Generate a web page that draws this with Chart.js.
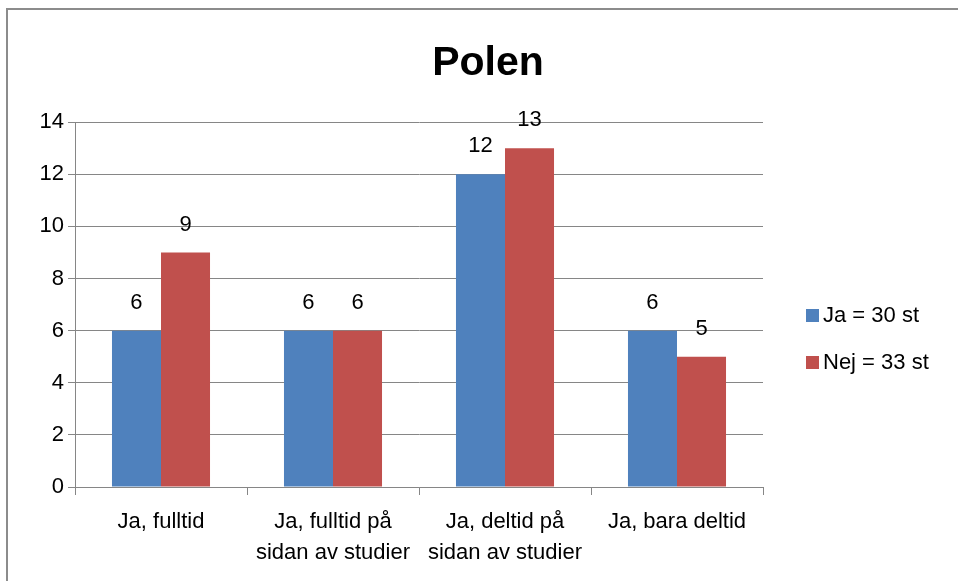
<!DOCTYPE html>
<html>
<head>
<meta charset="utf-8">
<script src="https://cdn.jsdelivr.net/npm/chart.js@4.4.0/dist/chart.umd.min.js"></script>
<style>
  html, body { margin: 0; padding: 0; background: #fff; }
  #wrap { position: relative; width: 958px; height: 581px; overflow: hidden; }
  #frame { position: absolute; left: 6px; top: 8px; width: 960px; height: 600px;
           border-top: 2px solid #8c8c8c; border-left: 2px solid #8c8c8c; }
  canvas { position: absolute; left: 0; top: 0; }
</style>
</head>
<body>
<div id="wrap">
  <div id="frame"></div>
  <canvas id="chart" width="958" height="581"></canvas>
</div>
<script>
// ========================== DATA ==============================
const chartTitle = 'Polen';
const categories = [
  'Ja, fulltid',
  ['Ja, fulltid på', 'sidan av studier'],
  ['Ja, deltid på', 'sidan av studier'],
  'Ja, bara deltid'
];
const seriesNames = ['Ja = 30 st', 'Nej = 33 st'];
const jaValues = [6, 6, 12, 6];
const nejValues = [9, 6, 13, 5];
const yTicks = { min: 0, max: 14, step: 2 };

const FONT = "'Liberation Sans', Arial, sans-serif";
const colors = ['#4F81BD', '#C0504D'];

// ========================== PLUGINS ============================
// title is centred on the whole picture, not only the plot + axis part
const centerTitle = {
  id: 'centerTitle',
  afterLayout(chart) {
    const t = chart.titleBlock;
    if (!t) return;
    t.left = 0;
    t.right = 976;
    t.width = 976;
  }
};

const barLabels = {
  id: 'barLabels',
  afterDatasetsDraw(chart) {
    const ctx = chart.ctx;
    ctx.save();
    ctx.font = '22px ' + FONT;
    ctx.fillStyle = '#000';
    ctx.textAlign = 'center';
    ctx.textBaseline = 'middle';
    chart.data.datasets.forEach((ds, i) => {
      chart.getDatasetMeta(i).data.forEach((bar, j) => {
        ctx.fillText(String(ds.data[j]), bar.x, bar.y - 28);
      });
    });
    ctx.restore();
  }
};

const sideLegend = {
  id: 'sideLegend',
  afterDraw(chart) {
    const ctx = chart.ctx;
    ctx.save();
    ctx.font = '22px ' + FONT;
    ctx.textBaseline = 'middle';
    chart.data.datasets.forEach((ds, i) => {
      const y = 316 + i * 47;
      ctx.fillStyle = ds.backgroundColor;
      ctx.fillRect(806, y - 7, 13, 13);
      ctx.fillStyle = '#000';
      ctx.fillText(ds.label, 823, y);
    });
    ctx.restore();
  }
};

// ========================== CHART =============================
new Chart(document.getElementById('chart'), {
  type: 'bar',
  data: {
    labels: categories,
    datasets: [
      { label: seriesNames[0], data: jaValues, backgroundColor: colors[0] },
      { label: seriesNames[1], data: nejValues, backgroundColor: colors[1] }
    ]
  },
  options: {
    responsive: false,
    animation: false,
    devicePixelRatio: 1,
    categoryPercentage: 0.57,
    barPercentage: 1,
    layout: { padding: { left: 0, right: 195, top: 0, bottom: 0 } },
    plugins: {
      legend: { display: false },
      tooltip: { enabled: false },
      title: {
        display: true,
        text: chartTitle,
        color: '#000',
        font: { family: FONT, size: 41, weight: 'bold', lineHeight: 1.2 },
        padding: { top: 39, bottom: 34 }
      }
    },
    scales: {
      y: {
        min: yTicks.min,
        max: yTicks.max,
        afterFit(scale) { scale.width = 75; },
        ticks: { stepSize: yTicks.step, color: '#000', padding: 4,
                 font: { family: FONT, size: 22 } },
        grid: { color: '#868686', tickLength: 7, drawTicks: true },
        border: { display: true, color: '#868686' }
      },
      x: {
        afterFit(scale) { scale.height = 94; },
        ticks: { color: '#000', padding: 12, autoSkip: false, maxRotation: 0,
                 font: { family: FONT, size: 22, lineHeight: 1.4 } },
        grid: { offset: true, drawOnChartArea: false, drawTicks: true,
                tickLength: 8, color: '#868686' },
        border: { display: true, color: '#868686' }
      }
    }
  },
  plugins: [centerTitle, barLabels, sideLegend]
});
</script>
</body>
</html>
